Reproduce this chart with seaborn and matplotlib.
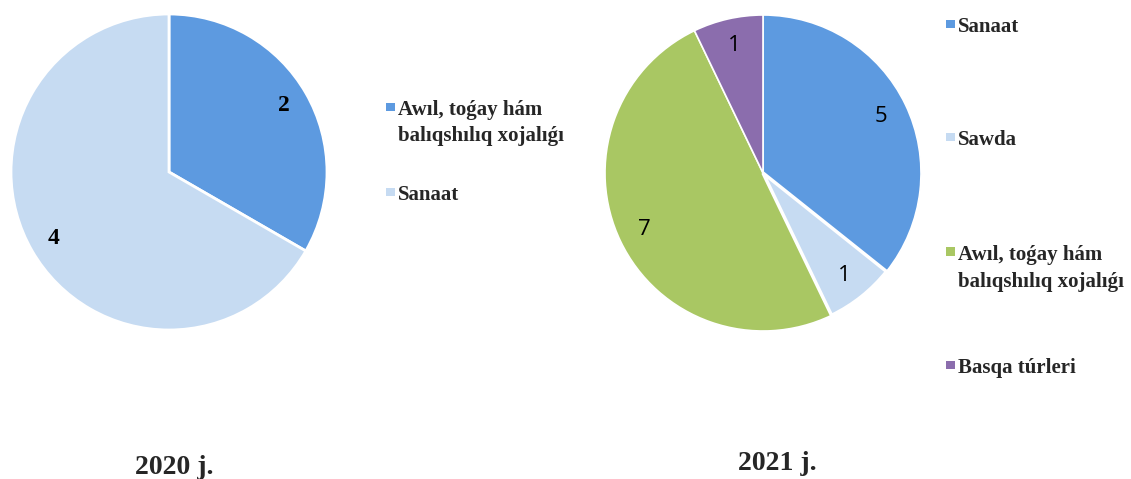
import matplotlib
matplotlib.use("Agg")
import matplotlib.pyplot as plt
from matplotlib.patches import Rectangle
import seaborn as sns

# data
cats_2020 = ["Awıl, toǵay hám\nbalıqshılıq xojalıǵı", "Sanaat"]
vals_2020 = [2, 4]
cols_2020 = ["#5D9AE0", "#C6DBF2"]

cats_2021 = ["Sanaat", "Sawda", "Awıl, toǵay hám\nbalıqshılıq xojalıǵı", "Basqa túrleri"]
vals_2021 = [5, 1, 7, 1]
cols_2021 = ["#5D9AE0", "#C6DBF2", "#A9C763", "#8B6DAD"]

titles = ["2020 j.", "2021 j."]

sns.set_theme(style="white")
serif = ["Liberation Serif", "DejaVu Serif"]
plt.rcParams["font.family"] = serif

W, H = 1131, 479
fig = plt.figure(figsize=(W / 100, H / 100), dpi=100)


def pie_axes(cx, cy, r):
    return fig.add_axes([(cx - r) / W, 1 - (cy + r) / H, 2 * r / W, 2 * r / H])


def fpos(x, y):
    return x / W, 1 - y / H


# 2020 pie
ax1 = pie_axes(169, 172, 158)
ax1.pie(vals_2020, labels=[str(v) for v in vals_2020], colors=cols_2020,
        startangle=90, counterclock=False, labeldistance=0.84,
        wedgeprops=dict(edgecolor="white", linewidth=2),
        textprops=dict(fontsize=17, fontweight="bold", family=serif,
                       ha="center", va="center", color="black"))
ax1.set_xlim(-1, 1)
ax1.set_ylim(-1, 1)
ax1.axis("off")

# 2021 pie
ax2 = pie_axes(763, 173, 158)
wedges, _ = ax2.pie(vals_2021, labels=[str(v) for v in vals_2021], colors=cols_2021,
                    startangle=90, counterclock=False, labeldistance=0.83,
                    wedgeprops=dict(edgecolor="white", linewidth=1.2),
                    textprops=dict(fontsize=16, family=["Open Sans", "DejaVu Sans"],
                                   ha="center", va="center", color="black"))
# the Sawda slice is set off by a wider white seam
wedges[1].set_linewidth(2.5)
wedges[1].set_zorder(3)
ax2.set_xlim(-1, 1)
ax2.set_ylim(-1, 1)
ax2.axis("off")


# legends, drawn by hand so the marker sits on the first line
def legend(labels, colors, x_marker, x_text, baselines, msize=8.5, lead=26):
    for lab, col, yb in zip(labels, colors, baselines):
        x0, y0 = fpos(x_marker, yb - 4)
        fig.add_artist(Rectangle((x0, y0), msize / W, msize / H,
                                 transform=fig.transFigure, facecolor=col,
                                 edgecolor="none"))
        for i, line in enumerate(lab.split("\n")):
            fig.text(*fpos(x_text, yb + i * lead), line, fontsize=15,
                     fontweight="bold", family=serif, ha="left", va="baseline")


legend(cats_2020, cols_2020, 386, 398, [115, 200], lead=26)
legend(cats_2021, cols_2021, 946, 958, [32, 145, 260, 373], lead=27)

fig.text(*fpos(174, 474), titles[0], fontsize=20, fontweight="bold",
         family=serif, ha="center", va="baseline")
fig.text(*fpos(777, 470), titles[1], fontsize=20, fontweight="bold",
         family=serif, ha="center", va="baseline")

fig.savefig("out.png", dpi=100, facecolor="white")
